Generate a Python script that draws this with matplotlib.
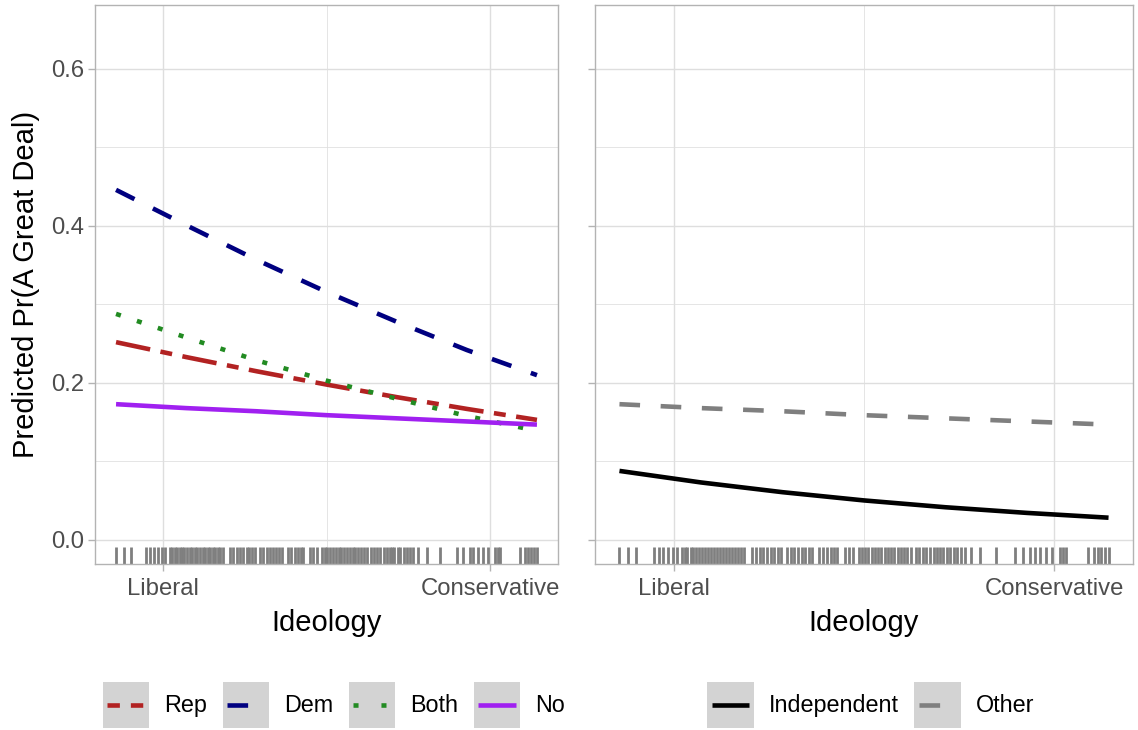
import matplotlib
matplotlib.use("Agg")
import matplotlib.pyplot as plt
from matplotlib.lines import Line2D
from matplotlib.patches import Rectangle
from matplotlib.legend_handler import HandlerBase

plt.rcParams['font.family'] = ['Liberation Sans', 'DejaVu Sans']

# ---------------- data ----------------
ideology = [1, 2.5, 4, 5.5, 7, 8.5, 10]
rep = [0.252, 0.233, 0.215, 0.198, 0.182, 0.167, 0.153]
dem = [0.446, 0.401, 0.357, 0.316, 0.278, 0.242, 0.210]
both = [0.288, 0.258, 0.229, 0.203, 0.180, 0.158, 0.139]
no = [0.173, 0.168, 0.164, 0.159, 0.155, 0.151, 0.147]
independent = [0.088, 0.0733, 0.0609, 0.0504, 0.0417, 0.0345, 0.0284]
other = [0.173, 0.168, 0.164, 0.159, 0.155, 0.151, 0.147]

rug = [1.00, 1.16, 1.31, 1.64, 1.73, 1.81, 1.90, 1.98, 2.05,
       2.15, 2.20, 2.25, 2.31, 2.36, 2.41, 2.46, 2.51,
       2.58, 2.63, 2.68, 2.74, 2.79, 2.85, 2.90, 2.96, 3.01, 3.07,
       3.12, 3.18, 3.23, 3.29,
       3.44, 3.51, 3.58, 3.65, 3.72,
       3.79, 3.85, 3.91, 3.97,
       4.08, 4.15, 4.22, 4.29,
       4.36, 4.42, 4.48, 4.54,
       4.68, 4.75, 4.82,
       4.89, 4.95, 5.00,
       5.15, 5.22, 5.29,
       5.40, 5.46, 5.52, 5.58, 5.64, 5.70, 5.76, 5.82, 5.88, 5.94,
       6.00, 6.06, 6.12, 6.18, 6.24, 6.30, 6.36,
       6.46, 6.52, 6.58, 6.65, 6.72, 6.79, 6.85,
       6.89, 6.95, 7.02, 7.08, 7.15, 7.22, 7.28,
       7.35, 7.46, 7.64, 7.92, 8.28, 8.42, 8.56, 8.64, 8.74, 8.85, 8.96,
       9.10, 9.16, 9.21, 9.63, 9.74, 9.81, 9.87, 9.94, 10.00]

x_breaks = [2, 9]
x_labels = ["Liberal", "Conservative"]
y_breaks = [0.0, 0.2, 0.4, 0.6]
y_labels = ["0.0", "0.2", "0.4", "0.6"]

left_names = ["Rep", "Dem", "Both", "No"]
left_series = [rep, dem, both, no]
right_names = ["Independent", "Other"]
right_series = [independent, other]

# ---------------- styles ----------------
LW = 3.3
styles = {
    "Rep": dict(color="#B22222", dashes=(7.6, 2.3, 2.6, 2.3), key=(2.7, 2.4)),
    "Dem": dict(color="#000080", dashes=(4.5, 4.5), key=(4.5, 4.5)),
    "Both": dict(color="#228B22", dashes=(1.1, 3.7), key=(1.1, 5.0)),
    "No": dict(color="#A020F0", dashes=None, key=None),
    "Independent": dict(color="#000000", dashes=None, key=None),
    "Other": dict(color="#7F7F7F", dashes=(4.5, 4.5), key=(4.5, 4.5)),
}

BORDER = "#B3B3B3"
GRID = "#DEDEDE"
TICKLAB = "#4D4D4D"
KEYBG = "#D3D3D3"
FS_TICK = 17.2
FS_LEG = 16.8
FS_TITLE = 21

fig = plt.figure(figsize=(11.38, 7.30), dpi=100)
axL = fig.add_axes([95 / 1138, 1 - 563.7 / 730, 463 / 1138, 558.7 / 730])
axR = fig.add_axes([595 / 1138, 1 - 563.7 / 730, 538 / 1138, 558.7 / 730])


def style_axis(ax, show_ylabels):
    ax.set_xlim(1 - 0.45, 10 + 0.45)
    ax.set_ylim(-0.0302, 0.6815)
    ax.set_xticks(x_breaks)
    ax.set_xticklabels(x_labels)
    ax.set_xticks([5.5], minor=True)
    ax.set_yticks(y_breaks)
    ax.set_yticks([0.1, 0.3, 0.5], minor=True)
    if show_ylabels:
        ax.set_yticklabels(y_labels)
    else:
        ax.set_yticklabels([])
    ax.grid(True, which="major", color=GRID, lw=1.0, zorder=0)
    ax.grid(True, which="minor", color=GRID, lw=0.55, zorder=0)
    ax.set_axisbelow(True)
    for s in ax.spines.values():
        s.set_color(BORDER)
        s.set_linewidth(1.0)
    ax.tick_params(which="major", direction="out", length=5, width=1.0,
                   color=BORDER, labelcolor=TICKLAB, labelsize=FS_TICK)
    ax.tick_params(axis="x", which="major", pad=5.5)
    ax.tick_params(axis="y", which="major", pad=3)
    ax.tick_params(which="minor", length=0)
    ax.set_xlabel("Ideology", fontsize=FS_TITLE, labelpad=6.5)
    ax.vlines(rug, 0, 0.03, transform=ax.get_xaxis_transform(),
              color="#7F7F7F", lw=2.0, zorder=2)


style_axis(axL, True)
style_axis(axR, False)
axL.set_ylabel("Predicted Pr(A Great Deal)", fontsize=FS_TITLE, labelpad=8)

handlesL = []
for name, vals in zip(left_names, left_series):
    st = styles[name]
    ln, = axL.plot(ideology, vals, color=st["color"], lw=LW, label=name,
                   solid_capstyle="butt", dash_capstyle="butt", zorder=3)
    if st["dashes"]:
        ln.set_dashes(st["dashes"])
    handlesL.append(ln)

handlesR = []
for name, vals in zip(right_names, right_series):
    st = styles[name]
    ln, = axR.plot(ideology, vals, color=st["color"], lw=LW, label=name,
                   solid_capstyle="butt", dash_capstyle="butt", zorder=3)
    if st["dashes"]:
        ln.set_dashes(st["dashes"])
    handlesR.append(ln)


class KeyHandler(HandlerBase):
    def create_artists(self, legend, orig_handle, xdescent, ydescent,
                       width, height, fontsize, trans):
        r = Rectangle((-xdescent, -ydescent), width, height,
                      facecolor=KEYBG, edgecolor="none", transform=trans)
        y = -ydescent + height / 2
        l = Line2D([-xdescent + 0.1 * width, -xdescent + 0.9 * width], [y, y],
                   color=orig_handle.get_color(), lw=orig_handle.get_linewidth(),
                   solid_capstyle="butt", dash_capstyle="butt", transform=trans)
        ds = styles[orig_handle.get_label()]["key"]
        if ds:
            l.set_dashes(ds)
        return [r, l]


legkw = dict(loc="center", frameon=False, fontsize=FS_LEG,
             handlelength=2.0, handleheight=2.72, handletextpad=0.65,
             columnspacing=0.65, borderpad=0, borderaxespad=0)
fig.legend(handlesL, left_names, bbox_to_anchor=(334 / 1138, 1 - 705 / 730),
           ncol=4, handler_map={Line2D: KeyHandler()}, **legkw)
fig.legend(handlesR, right_names, bbox_to_anchor=(871 / 1138, 1 - 705 / 730),
           ncol=2, handler_map={Line2D: KeyHandler()}, **legkw)

fig.savefig("out.png", dpi=100)
